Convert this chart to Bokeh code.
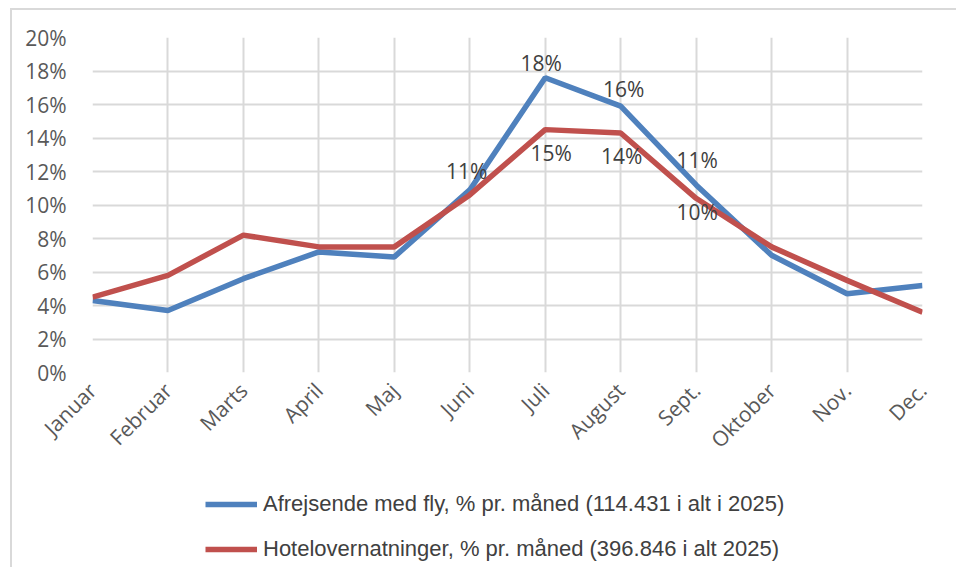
import math
from bokeh.plotting import figure
from bokeh.layouts import column
from bokeh.models import (ColumnDataSource, FixedTicker, Legend, LegendItem,
                          Range1d, PrintfTickFormatter)
from bokeh.core.properties import value
from bokeh.embed import file_html
from bokeh.resources import INLINE

months = ["Januar", "Februar", "Marts", "April", "Maj", "Juni", "Juli",
          "August", "Sept.", "Oktober", "Nov.", "Dec."]
fly = [4.3, 3.7, 5.6, 7.2, 6.9, 10.9, 17.6, 15.9, 11.2, 7.0, 4.7, 5.2]
hotel = [4.5, 5.8, 8.2, 7.5, 7.5, 10.6, 14.5, 14.3, 10.4, 7.5, 5.5, 3.6]
fly_name = "Afrejsende med fly, % pr. måned (114.431 i alt i 2025)"
hotel_name = "Hotelovernatninger, % pr. måned (396.846 i alt 2025)"

# data labels shown in the chart (month index, text)
fly_label_idx = [5, 6, 7, 8]
fly_label_txt = ["11%", "18%", "16%", "11%"]
hotel_label_idx = [6, 7, 8]
hotel_label_txt = ["15%", "14%", "10%"]

FONT = "Open Sans"
LEG_FONT = "Liberation Sans"
BLUE = "#4F81BD"
RED = "#C0504D"
GRID = "#d9d9d9"
TXT = "#595959"

x = list(range(len(months)))

p = figure(width=956, height=472, output_backend="svg", toolbar_location=None,
           x_range=Range1d(0, len(months) - 1), y_range=Range1d(0, 20),
           min_border_left=92, min_border_right=34, min_border_top=37,
           min_border_bottom=100)
p.outline_line_color = None
p.background_fill_color = "white"
p.border_fill_color = None

p.xgrid.ticker = FixedTicker(ticks=x)
p.ygrid.ticker = FixedTicker(ticks=list(range(0, 21, 2)))
for g in (p.xgrid, p.ygrid):
    g.grid_line_color = GRID
    g.grid_line_width = 2

p.yaxis.ticker = FixedTicker(ticks=list(range(0, 21, 2)))
p.yaxis.formatter = PrintfTickFormatter(format="%d%%")
p.xaxis.ticker = FixedTicker(ticks=x)
p.xaxis.major_label_overrides = {i: m for i, m in enumerate(months)}
p.xaxis.major_label_orientation = math.pi / 4
for ax in (p.xaxis, p.yaxis):
    ax.axis_line_color = None
    ax.major_tick_line_color = None
    ax.minor_tick_line_color = None
    ax.major_label_text_font = FONT
    ax.major_label_text_font_size = "21px"
    ax.major_label_text_color = TXT
p.yaxis.major_label_standoff = 20
p.xaxis.major_label_standoff = 8

src = ColumnDataSource(dict(x=x, fly=fly, hotel=hotel))
p.line("x", "fly", source=src, line_color=BLUE, line_width=5.5)
p.line("x", "hotel", source=src, line_color=RED, line_width=5.5)

# data labels
fsrc = ColumnDataSource(dict(x=fly_label_idx, y=[fly[i] for i in fly_label_idx],
                             t=fly_label_txt, dx=[-3, -4, 3, 1], dy=[-19, -15, -17, -25]))
hsrc = ColumnDataSource(dict(x=hotel_label_idx, y=[hotel[i] for i in hotel_label_idx],
                             t=hotel_label_txt, dx=[6, 1, 1], dy=[23, 23, 14]))
for s in (fsrc, hsrc):
    p.text("x", "y", text="t", source=s, x_offset="dx", y_offset="dy",
           text_align="center", text_baseline="middle",
           text_font=value(FONT), text_font_size="21px", text_color="#404040")

# legend panel (swatch lines sit outside the visible range)
lg = figure(width=956, height=95, output_backend="svg", toolbar_location=None,
            x_axis_type=None, y_axis_type=None,
            min_border_left=0, min_border_right=0, min_border_top=0,
            min_border_bottom=0,
            x_range=Range1d(0, 1), y_range=Range1d(0, 1))
lg.outline_line_color = None
lg.background_fill_color = None
lg.border_fill_color = None
lg.xgrid.visible = False
lg.ygrid.visible = False
r_fly = lg.line([-5, -4], [-5, -5], line_color=BLUE, line_width=5.5)
r_hotel = lg.line([-5, -4], [-5, -5], line_color=RED, line_width=5.5)
legend = Legend(items=[LegendItem(label=fly_name, renderers=[r_fly]),
                       LegendItem(label=hotel_name, renderers=[r_hotel])],
                location=(113, 5), orientation="vertical",
                glyph_width=52, glyph_height=20, label_height=20,
                label_standoff=6, spacing=19, padding=0, margin=0,
                border_line_color=None, background_fill_alpha=0,
                label_text_font=LEG_FONT, label_text_font_size="22px",
                label_text_color="#404040")
lg.add_layout(legend, "center")

layout = column(p, lg, spacing=0)
layout.styles = {
    "background-color": "white",
    "background-image": "linear-gradient(#d9d9d9, #d9d9d9), linear-gradient(#d9d9d9, #d9d9d9)",
    "background-size": "2px 100%, 100% 2px",
    "background-position": "10px 8px, 10px 8px",
    "background-repeat": "no-repeat",
}
open("out.html", "w").write(file_html(layout, INLINE))
